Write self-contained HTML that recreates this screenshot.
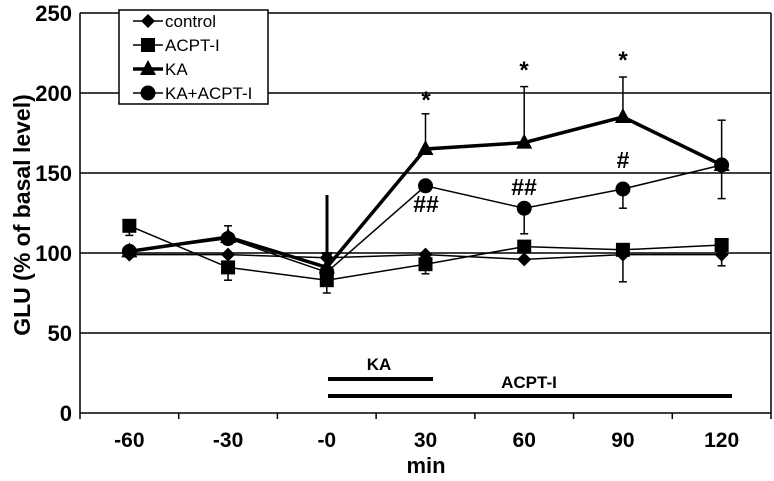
<!DOCTYPE html>
<html><head><meta charset="utf-8"><style>
body{margin:0;background:#fff;}
svg text{font-family:"Liberation Sans",Arial,sans-serif;}
</style></head><body>
<svg id="chart" width="774" height="476"></svg>
<script>
const categories=["-60","-30","-0","30","60","90","120"];
const yTicks=[0,50,100,150,200,250];
const controlVals=[99,99,97,99,96,99,99];
const controlErr=[0,0,0,0,0,17,7];
const acptVals=[117,91,83,93,104,102,105];
const acptErr=[6,8,8,6,0,0,0];
const kaVals=[101,110,91,165,169,185,155];
const kaErr=[0,7,0,22,35,25,0];
const kakVals=[101,109,88,142,128,140,155];
const kakErrUp=[0,0,0,0,0,0,28];
const kakErrDown=[0,0,0,0,16,12,21];
const NS="http://www.w3.org/2000/svg";
const svg=document.getElementById('chart');
const L=80,R=771,T=13,B=413;
const xs=i=>L+(R-L)/categories.length*(i+0.5);
const ys=v=>B-(v/250)*(B-T);
function el(tag,a,parent){const e=document.createElementNS(NS,tag);for(const k in a)e.setAttribute(k,a[k]);(parent||svg).appendChild(e);return e;}
yTicks.forEach(v=>{
 const g=el('line',{x1:L,x2:R,y1:ys(v),y2:ys(v),stroke:'#000','stroke-width':1.5});
 
 
 const t=el('text',{x:L-8,y:ys(v)+8,'text-anchor':'end','font-size':22,'font-weight':'bold'});t.textContent=v;
 
 
});
el('line',{x1:L,x2:L,y1:T,y2:B,stroke:'#000','stroke-width':1.5});
el('line',{x1:R,x2:R,y1:T,y2:B,stroke:'#000','stroke-width':1.5});
for(let i=0;i<=categories.length;i++){const x=L+(R-L)/categories.length*i;el('line',{x1:x,x2:x,y1:B,y2:B+6,stroke:'#000','stroke-width':1.5});}
categories.forEach((c,i)=>{const t=el('text',{x:xs(i),y:447,'text-anchor':'middle','font-size':21,'font-weight':'bold'});t.textContent=c;
 
 });
let t=el('text',{x:426,y:473,'text-anchor':'middle','font-size':22,'font-weight':'bold'});t.textContent='min';


t=el('text',{x:0,y:0,'text-anchor':'middle','font-size':23,'font-weight':'bold',transform:'translate(30,215) rotate(-90)'});t.textContent='GLU (% of basal level)';


el('line',{x1:328,x2:433,y1:379,y2:379,stroke:'#000','stroke-width':4});
el('line',{x1:328,x2:732,y1:396,y2:396,stroke:'#000','stroke-width':4});
t=el('text',{x:379,y:370,'text-anchor':'middle','font-size':17,'font-weight':'bold'});t.textContent='KA';
t=el('text',{x:529,y:388,'text-anchor':'middle','font-size':17,'font-weight':'bold'});t.textContent='ACPT-I';
el('line',{x1:327,x2:327,y1:195,y2:258,stroke:'#000','stroke-width':3});
el('polygon',{points:'321,252 333,252 327,266',fill:'#000'});
function err(vals,up,down){vals.forEach((v,i)=>{
 if(up[i]>0){el('line',{x1:xs(i),x2:xs(i),y1:ys(v),y2:ys(v+up[i]),stroke:'#000','stroke-width':1.5});el('line',{x1:xs(i)-4,x2:xs(i)+4,y1:ys(v+up[i]),y2:ys(v+up[i]),stroke:'#000','stroke-width':1.5});}
 if(down[i]>0){el('line',{x1:xs(i),x2:xs(i),y1:ys(v),y2:ys(v-down[i]),stroke:'#000','stroke-width':1.5});el('line',{x1:xs(i)-4,x2:xs(i)+4,y1:ys(v-down[i]),y2:ys(v-down[i]),stroke:'#000','stroke-width':1.5});}
});}
err(controlVals,[0,0,0,0,0,0,0],controlErr);
err(acptVals,[0,0,0,0,0,0,0],acptErr);
err(kaVals,kaErr,[0,0,0,0,0,0,0]);
err(kakVals,kakErrUp,kakErrDown);
function marker(type,x,y,g){
 if(type==='d')el('polygon',{points:`${x},${y-7} ${x+7},${y} ${x},${y+7} ${x-7},${y}`,fill:'#000'},g);
 if(type==='s')el('rect',{x:x-7,y:y-7,width:14,height:14,fill:'#000'},g);
 if(type==='t')el('polygon',{points:`${x},${y-9} ${x+8},${y+6} ${x-8},${y+6}`,fill:'#000'},g);
 if(type==='c')el('circle',{cx:x,cy:y,r:7.5,fill:'#000'},g);
}
function series(vals,type,w,name){
 const g=el('g',{});
 
 
 el('polyline',{points:vals.map((v,i)=>xs(i)+','+ys(v)).join(' '),fill:'none',stroke:'#000','stroke-width':w},g);
 vals.forEach((v,i)=>marker(type,xs(i),ys(v),g));
}
series(controlVals,'d',1.5,'series-control');
series(acptVals,'s',1.5,'series-acpt-i');
series(kaVals,'t',3.5,'series-ka');
series(kakVals,'c',1.5,'series-ka-acpt-i');
[[426,108,'*'],[524,78,'*'],[623,68,'*'],[426,212,'##'],[524,195,'##'],[623,168,'#']].forEach(a=>{
 const tx=el('text',{x:a[0],y:a[1],'text-anchor':'middle','font-size':a[2]==='*'?24:23,'font-weight':'bold'});tx.textContent=a[2];
 
 
});
const lg=el('g',{});


el('rect',{x:119,y:10,width:149,height:94,fill:'#fff',stroke:'#000','stroke-width':1.5},lg);
[['control','d',1.5],['ACPT-I','s',1.5],['KA','t',3.5],['KA+ACPT-I','c',1.5]].forEach((e,i)=>{
 const y=21+i*24;
 el('line',{x1:133,x2:163,y1:y,y2:y,stroke:'#000','stroke-width':e[2]},lg);
 marker(e[1],148,y,lg);
 const tx=el('text',{x:165,y:y+6,'font-size':17},lg);tx.textContent=e[0];
 
 
});
</script>
</body></html>
